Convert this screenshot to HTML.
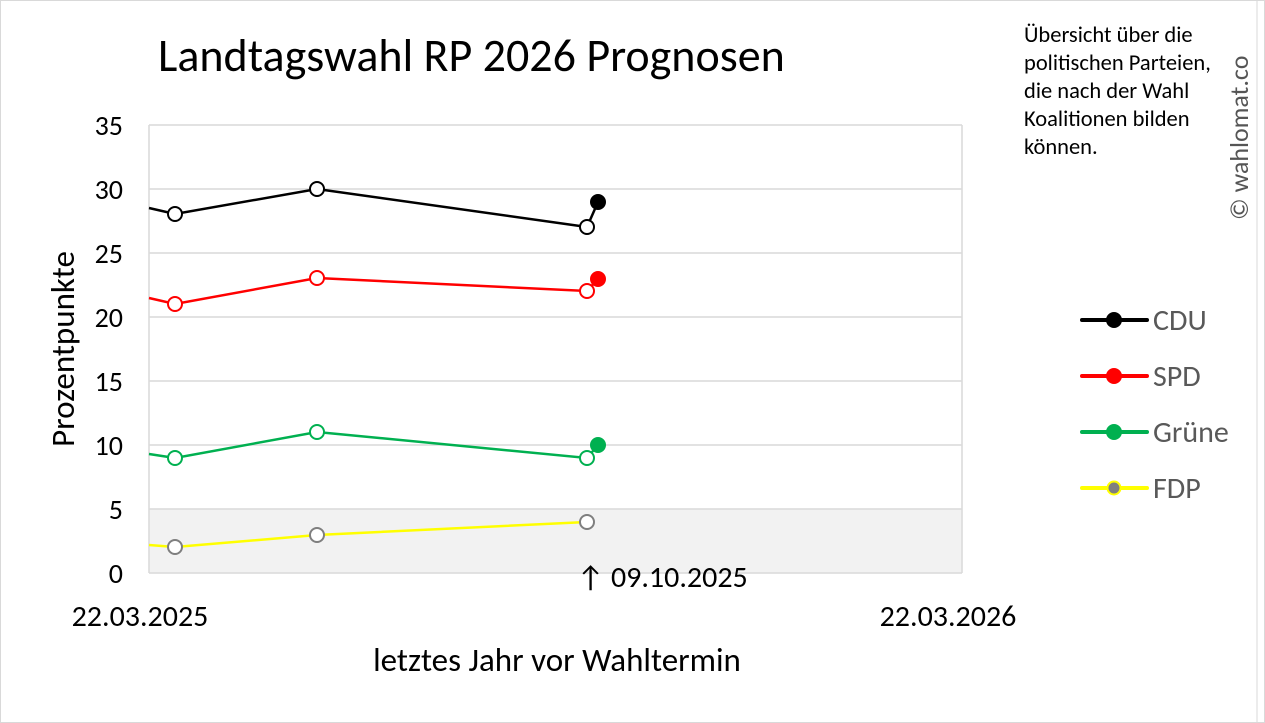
<!DOCTYPE html>
<html><head><meta charset="utf-8"><style>
body{margin:0;background:#fff}
svg{display:block;font-family:"Carlito","Liberation Sans",sans-serif}
</style></head><body>
<svg width="1265" height="723" viewBox="0 0 1265 723" xmlns="http://www.w3.org/2000/svg">
<rect x="0.5" y="0.5" width="1264" height="722" fill="#fff" stroke="#d9d9d9"/>
<line x1="1257" y1="0" x2="1257" y2="723" stroke="#d9d9d9"/>
<text x="158" y="71" font-size="46" fill="#000">Landtagswahl RP 2026 Prognosen</text>
<g font-size="22.5" fill="#000">
<text x="1024" y="42">Übersicht über die</text>
<text x="1024" y="70">politischen Parteien,</text>
<text x="1024" y="98">die nach der Wahl</text>
<text x="1024" y="126">Koalitionen bilden</text>
<text x="1024" y="154">können.</text>
</g>
<text transform="translate(1248,220) rotate(-90)" font-size="26" fill="#555">© wahlomat.co</text>
<rect x="149" y="509" width="813" height="64" fill="#f2f2f2"/>
<g stroke="#d9d9d9" stroke-width="1.5">
<line x1="149" y1="125" x2="962" y2="125"/>
<line x1="149" y1="189" x2="962" y2="189"/>
<line x1="149" y1="253" x2="962" y2="253"/>
<line x1="149" y1="317" x2="962" y2="317"/>
<line x1="149" y1="381" x2="962" y2="381"/>
<line x1="149" y1="445" x2="962" y2="445"/>
<line x1="149" y1="509" x2="962" y2="509"/>
<line x1="149" y1="573" x2="962" y2="573"/>
<line x1="149" y1="125" x2="149" y2="573"/>
<line x1="962" y1="125" x2="962" y2="573"/>
</g>
<g font-size="28" fill="#000" text-anchor="end">
<text x="123" y="135">35</text><text x="123" y="199">30</text><text x="123" y="263">25</text>
<text x="123" y="327">20</text><text x="123" y="391">15</text><text x="123" y="455">10</text>
<text x="123" y="519">5</text><text x="123" y="583">0</text>
</g>
<text transform="translate(74,349) rotate(-90)" font-size="33" text-anchor="middle">Prozentpunkte</text>
<text x="140" y="626" font-size="30" text-anchor="middle">22.03.2025</text>
<text x="948" y="626" font-size="30" text-anchor="middle">22.03.2026</text>
<text x="557" y="671" font-size="33" text-anchor="middle">letztes Jahr vor Wahltermin</text>
<text x="577" y="587" font-size="30">↑ 09.10.2025</text>
<g fill="none" stroke-width="2.5">
<polyline points="149,208 175,214 317,189 587,227 598,202" stroke="#000"/>
<polyline points="149,298 175,304 317,278 587,291 598,279" stroke="#f00"/>
<polyline points="149,454 175,458 317,432 587,458 598,445" stroke="#00b050"/>
<polyline points="149,545 175,547 317,535 587,522" stroke="#ff0"/>
</g>
<g fill="#fff" stroke-width="2">
<circle cx="175" cy="214" r="7" stroke="#000"/><circle cx="317" cy="189" r="7" stroke="#000"/><circle cx="587" cy="227" r="7" stroke="#000"/>
<circle cx="175" cy="304" r="7" stroke="#f00"/><circle cx="317" cy="278" r="7" stroke="#f00"/><circle cx="587" cy="291" r="7" stroke="#f00"/>
<circle cx="175" cy="458" r="7" stroke="#00b050"/><circle cx="317" cy="432" r="7" stroke="#00b050"/><circle cx="587" cy="458" r="7" stroke="#00b050"/>
<circle cx="175" cy="547" r="7" stroke="#7f7f7f"/><circle cx="317" cy="535" r="7" stroke="#7f7f7f"/><circle cx="587" cy="522" r="7" stroke="#7f7f7f"/>
</g>
<circle cx="598" cy="202" r="8" fill="#000"/>
<circle cx="598" cy="279" r="8" fill="#f00"/>
<circle cx="598" cy="445" r="8" fill="#00b050"/>
<g stroke-width="4" stroke-linecap="round">
<line x1="1082" y1="320" x2="1147" y2="320" stroke="#000"/><circle cx="1114" cy="320" r="8" fill="#000" stroke="none"/>
<line x1="1082" y1="376" x2="1147" y2="376" stroke="#f00"/><circle cx="1114" cy="376" r="8" fill="#f00" stroke="none"/>
<line x1="1082" y1="432" x2="1147" y2="432" stroke="#00b050"/><circle cx="1114" cy="432" r="8" fill="#00b050" stroke="none"/>
<line x1="1082" y1="488" x2="1147" y2="488" stroke="#ff0"/><circle cx="1114" cy="488" r="6.5" fill="#7f7f7f" stroke="#ff0" stroke-width="2"/>
</g>
<g font-size="30" fill="#595959">
<text x="1153" y="330">CDU</text><text x="1153" y="386">SPD</text>
<text x="1153" y="442">Grüne</text><text x="1153" y="498">FDP</text>
</g>
</svg>
</body></html>
